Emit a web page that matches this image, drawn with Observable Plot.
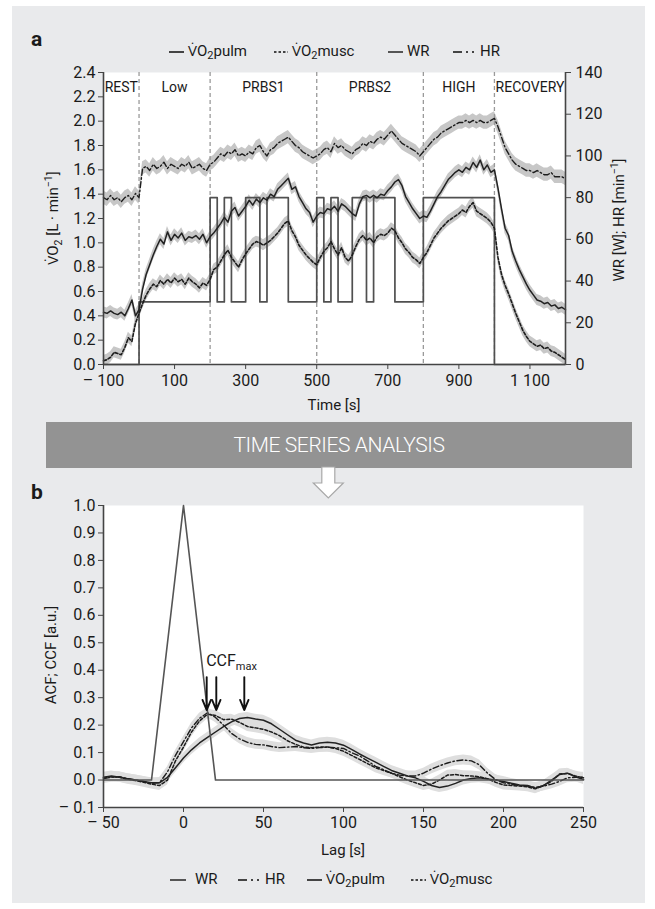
<!DOCTYPE html>
<html><head><meta charset="utf-8">
<script src="https://cdn.jsdelivr.net/npm/d3@7"></script>
<script src="https://cdn.jsdelivr.net/npm/@observablehq/plot@0.6"></script>
<style>
html,body{margin:0;padding:0;background:#fff;}
body{width:655px;height:909px;position:relative;overflow:hidden;font-family:Roboto,"Open Sans",sans-serif;color:#1a1a1a;}
#card{position:absolute;left:12px;top:6px;width:633px;height:897px;background:#e9eaec;}
.abs{position:absolute;}
.plabel{position:absolute;font-weight:bold;font-size:21px;line-height:21px;}
.lg{position:absolute;font-size:15px;line-height:18px;white-space:nowrap;}
.lg sub{font-size:11px;vertical-align:-3px;line-height:0;}
.sw{position:absolute;}
#banner{position:absolute;left:46px;top:422px;width:586px;height:46px;background:#939393;color:#fff;font-size:21px;font-weight:300;line-height:46px;text-align:center;letter-spacing:-0.4px;}
</style></head>
<body>
<div id="card"></div>
<div class="plabel" style="left:31px;top:29px;">a</div>
<div class="plabel" style="left:31px;top:482px;">b</div>
<div id="legendA"></div>
<div id="legendB"></div>
<div id="banner">TIME SERIES ANALYSIS</div>
<svg class="abs" style="left:310px;top:466px;" width="40" height="36"><path d="M11.8,1 L24.8,1 L24.8,17 L33.3,17 L18.3,32 L3.3,17 L11.8,17 Z" fill="#fff" stroke="#a8a8a8" stroke-width="1.2"/></svg>
<div id="plotA" class="abs" style="left:0;top:60px;"></div>
<div id="plotB" class="abs" style="left:0;top:495px;"></div>
<script>
// ---------- Panel a data ----------
const timeA = [-100,-90,-80,-70,-60,-50,-40,-30,-20,-10,0,
10,20,30,40,50,60,70,80,90,100,110,120,130,140,150,160,170,180,190,200,
210,220,230,240,250,260,270,280,290,300,310,320,330,340,350,360,370,380,390,400,410,420,430,440,450,460,470,480,490,500,
510,520,530,540,550,560,570,580,590,600,610,620,630,640,650,660,670,680,690,700,710,720,730,740,750,760,770,780,790,800,
810,820,830,840,850,860,870,880,890,900,910,920,930,940,950,960,970,980,990,1000,
1010,1020,1030,1040,1050,1060,1070,1080,1090,1100,1110,1120,1130,1140,1150,1160,1170,1180,1190,1200];
const vo2pulmA = [0.43,0.42,0.44,0.42,0.41,0.43,0.40,0.46,0.53,0.40,0.45,
0.62,0.74,0.82,0.90,0.97,1.03,0.99,1.09,1.02,1.07,1.04,1.08,1.02,1.05,1.04,1.06,1.03,1.07,1.00,1.05,
1.08,1.12,1.16,1.21,1.17,1.26,1.29,1.22,1.26,1.30,1.35,1.31,1.36,1.33,1.37,1.35,1.40,1.38,1.44,1.47,1.50,1.53,1.44,1.46,1.38,1.33,1.28,1.25,1.17,1.22,
1.25,1.24,1.28,1.27,1.30,1.26,1.32,1.30,1.27,1.24,1.22,1.32,1.38,1.39,1.37,1.39,1.37,1.40,1.39,1.43,1.46,1.50,1.52,1.47,1.38,1.33,1.28,1.24,1.20,1.22,
1.21,1.26,1.32,1.38,1.42,1.47,1.52,1.55,1.58,1.60,1.58,1.62,1.60,1.66,1.62,1.68,1.60,1.64,1.58,1.60,
1.45,1.28,1.12,1.06,0.93,0.85,0.78,0.72,0.66,0.61,0.57,0.53,0.52,0.50,0.51,0.48,0.49,0.46,0.47,0.45];
const vo2muscA = [0.03,0.04,0.06,0.10,0.09,0.08,0.14,0.22,0.19,0.34,0.42,
0.50,0.57,0.62,0.66,0.64,0.69,0.66,0.70,0.67,0.71,0.68,0.70,0.66,0.71,0.68,0.66,0.63,0.67,0.65,0.70,
0.78,0.80,0.85,0.90,0.94,0.88,0.84,0.80,0.86,0.91,0.95,0.99,1.01,1.00,0.98,1.00,1.02,1.05,1.08,1.12,1.16,1.18,1.10,1.05,0.98,0.94,0.90,0.87,0.84,0.82,
0.88,0.93,0.96,1.01,0.95,0.90,0.96,0.88,0.85,0.90,0.97,1.03,1.06,1.02,1.04,1.00,1.05,1.07,1.06,1.08,1.12,1.10,1.04,1.00,0.95,0.92,0.88,0.86,0.83,0.88,
0.92,0.98,1.04,1.08,1.12,1.15,1.18,1.20,1.22,1.24,1.27,1.25,1.30,1.33,1.26,1.24,1.22,1.20,1.17,1.12,
0.88,0.74,0.65,0.58,0.50,0.42,0.35,0.28,0.23,0.19,0.17,0.15,0.16,0.13,0.14,0.11,0.10,0.08,0.06,0.04];
const hrA = [80,79,81,79,80,78,80,81,79,82,80,
94,95,93,96,94,95,97,94,96,95,94,96,95,97,94,95,96,94,93,96,
97,99,101,100,102,101,103,100,101,100,102,101,104,105,102,100,103,104,106,107,108,109,107,105,104,102,101,100,99,100,
101,103,104,102,106,104,105,103,102,101,103,104,106,105,107,106,108,109,108,110,112,110,108,106,105,104,103,102,100,102,
104,106,108,109,111,112,113,114,115,116,116,117,116,117,116,117,116,116,117,118,
114,109,104,101,98,96,95,94,93,93,92,93,92,91,91,92,90,90,90,89];
const wrStepTime  = [-100, 0, 200, 220, 240, 260, 300, 340, 360, 420, 500, 520, 540, 560, 600, 640, 660, 720, 800, 1000, 1200];
const wrStepWatts = [   0,30,  80,  30,  80,  30,  80,  30,  80,  30,  80,  30,  80,  30,  80,  30,  80,  30,  80,    0,    0];
const bandPulmA = 0.045, bandMuscA = 0.045, bandHrA = 3.2;   // SD band half-widths
const phaseNames = ["REST","Low","PRBS1","PRBS2","HIGH","RECOVERY"];
const phaseStart = [-100, 0, 200, 500, 800, 1000];
const phaseEnd   = [0, 200, 500, 800, 1000, 1200];
const phaseBounds = [0, 200, 500, 800, 1000];
const yTicksA = [0,0.2,0.4,0.6,0.8,1.0,1.2,1.4,1.6,1.8,2.0,2.2,2.4];
const rightTicksA = [0,20,40,60,80,100,120,140];
const xTicksA = [-100,100,300,500,700,900,1100];
const xTickLabelsA = ["– 100","100","300","500","700","900","1 100"];

// ---------- Panel b data ----------
const lagB = [-50,-45,-40,-35,-30,-25,-20,-15,-10,-5,0,5,10,15,20,25,30,35,40,45,50,55,60,65,70,75,80,85,90,95,100,
105,110,115,120,125,130,135,140,145,150,155,160,165,170,175,180,185,190,195,200,205,210,215,220,225,230,235,240,245,250];
const ccfPulmB = [0.01,0.015,0.01,0.005,0.0,-0.005,-0.01,-0.01,0.01,0.045,0.08,
0.11,0.135,0.155,0.175,0.195,0.212,0.224,0.228,0.222,0.218,
0.205,0.185,0.165,0.145,0.135,0.128,0.135,0.138,0.135,0.127,
0.112,0.095,0.08,0.065,0.05,0.035,0.025,0.015,0.008,-0.005,
-0.02,-0.027,-0.022,-0.012,0.0,0.006,0.008,0.004,0.0,-0.005,
-0.012,-0.018,-0.02,-0.03,-0.02,0.0,0.02,0.025,0.012,0.002];
const ccfHrB = [0.005,0.01,0.012,0.005,0.0,-0.005,-0.012,-0.01,0.03,0.09,0.14,
0.19,0.225,0.245,0.228,0.2,0.17,0.15,0.137,0.13,0.128,
0.122,0.118,0.12,0.122,0.118,0.115,0.118,0.12,0.118,0.115,
0.1,0.088,0.07,0.05,0.038,0.025,0.018,0.015,0.015,0.025,
0.04,0.052,0.062,0.07,0.073,0.07,0.055,0.025,0.002,-0.01,
-0.015,-0.02,-0.022,-0.027,-0.022,-0.015,-0.005,0.008,0.01,0.01];
const ccfMuscB = [0.008,0.012,0.01,0.003,-0.002,-0.008,-0.015,-0.02,0.0,0.07,0.12,
0.175,0.215,0.24,0.235,0.22,0.222,0.21,0.195,0.19,0.185,
0.175,0.162,0.143,0.13,0.12,0.118,0.12,0.12,0.115,0.105,
0.09,0.075,0.06,0.045,0.035,0.025,0.012,0.0,-0.01,-0.02,
-0.015,0.0,0.018,0.02,0.016,0.015,0.012,0.005,-0.008,-0.018,
-0.02,-0.022,-0.025,-0.032,-0.02,-0.005,0.022,0.024,0.015,0.008];
const acfWrLag = [-50,-20,0,20,250];
const acfWrVal = [0,0,1,0,0];
const bandB = 0.018;
const ccfMaxLag = [14.5, 20.5, 38];
const ccfArrowTop = [0.375, 0.375, 0.375];
const ccfArrowTip = [0.255, 0.255, 0.255];
const yTicksB = [-0.1,0,0.1,0.2,0.3,0.4,0.5,0.6,0.7,0.8,0.9,1.0];
const xTicksB = [-50,0,50,100,150,200,250];

// ---------- build ----------
const FONT = "Roboto, 'Open Sans', sans-serif";
const HR_TO_L = 2.4/140;
const ink = "#1c1c1c", axisInk = "#444";
const rowsA = timeA.map((t,i)=>({t, pulm:vo2pulmA[i], musc:vo2muscA[i], hr:hrA[i]*HR_TO_L}));
const wrRowsA = wrStepTime.map((t,i)=>({t, w:wrStepWatts[i]*HR_TO_L}));
const phaseRows = phaseNames.map((n,i)=>({name:n, x:(phaseStart[i]+phaseEnd[i])/2}));
const xLabA = new Map(xTicksA.map((v,i)=>[v,xTickLabelsA[i]]));
const bandFill = "#c7c7c7";

const plotA = Plot.plot({
  width:655, height:360, marginLeft:103, marginRight:90, marginTop:12, marginBottom:56,
  x:{domain:[-100,1200]}, y:{domain:[0,2.4]},
  style:{fontFamily:FONT, fontSize:"16px", background:"transparent", color:"#1a1a1a", overflow:"visible"},
  marks:[
    Plot.frame({fill:"white", stroke:null}),
    Plot.areaY(rowsA,{x:"t", y1:d=>d.hr-bandHrA*HR_TO_L, y2:d=>d.hr+bandHrA*HR_TO_L, fill:bandFill}),
    Plot.areaY(rowsA,{x:"t", y1:d=>d.pulm-bandPulmA, y2:d=>d.pulm+bandPulmA, fill:bandFill}),
    Plot.areaY(rowsA,{x:"t", y1:d=>d.musc-bandMuscA, y2:d=>d.musc+bandMuscA, fill:bandFill}),
    Plot.ruleX(phaseBounds,{stroke:"#9a9a9a", strokeWidth:1.3, strokeDasharray:"4,3"}),
    Plot.line(wrRowsA,{x:"t", y:"w", curve:"step-after", stroke:"#505050", strokeWidth:1.7}),
    Plot.line(rowsA,{x:"t", y:"hr", stroke:ink, strokeWidth:1.4, strokeDasharray:"6,2.5,1.5,2.5"}),
    Plot.line(rowsA,{x:"t", y:"musc", stroke:ink, strokeWidth:1.6, strokeDasharray:"3,2"}),
    Plot.line(rowsA,{x:"t", y:"pulm", stroke:"#222", strokeWidth:1.5}),
    Plot.text(phaseRows,{x:"x", y:()=>2.4, text:"name", dy:15, fontSize:14, fill:"#1a1a1a"}),
    Plot.ruleX([-100,1200],{stroke:axisInk, strokeWidth:1.6}),
    Plot.ruleY([0],{stroke:axisInk, strokeWidth:1.6}),
    Plot.axisY(yTicksA,{anchor:"left", tickSize:5, tickPadding:3, tickFormat:d3.format(".1f"), label:null, stroke:axisInk}),
    Plot.axisY(rightTicksA.map(v=>v*HR_TO_L),{anchor:"right", tickSize:5, tickPadding:5, tickFormat:d=>String(Math.round(d/HR_TO_L)), label:null, stroke:axisInk}),
    Plot.axisX(xTicksA,{anchor:"bottom", tickSize:5, tickPadding:5, tickFormat:d=>xLabA.get(d), label:null, stroke:axisInk})
  ]
});
document.getElementById("plotA").appendChild(plotA);

function richLabel(svg, x, y, rotate, parts, size){
  const t = d3.select(svg).append("text")
    .attr("transform",`translate(${x},${y})`+(rotate?` rotate(${rotate})`:""))
    .attr("text-anchor","middle").attr("font-family",FONT).attr("font-size",size).attr("fill","#1a1a1a");
  parts.forEach(p=>{
    const s = t.append("tspan").text(p.t);
    if(p.sub){ s.attr("font-size",size*0.7).attr("dy",4); }
    else if(p.sup){ s.attr("font-size",size*0.7).attr("dy",-6); }
    if(p.back) s.attr("dy",p.back);
  });
  return t;
}
richLabel(plotA, 58, 158, -90, [{t:"V̇O"},{t:"2",sub:true},{t:" [L · min",back:-4},{t:"−1",sup:true},{t:"]",back:6}], 15);
richLabel(plotA, 624, 160, -90, [{t:"WR [W]; HR [min"},{t:"−1",sup:true},{t:"]",back:6}], 15);
richLabel(plotA, 334, 350, 0, [{t:"Time [s]"}], 15);

// ---------- Panel b ----------
const rowsB = lagB.map((l,i)=>({l, pulm:ccfPulmB[i], hr:ccfHrB[i], musc:ccfMuscB[i]}));
const wrRowsB = acfWrLag.map((l,i)=>({l, v:acfWrVal[i]}));
const arrowRows = ccfMaxLag.map((l,i)=>({l, top:ccfArrowTop[i], tip:ccfArrowTip[i]}));
const bandFillB = "#dedede";
const fmtB = d => d < 0 ? "– " + d3.format(".1f")(-d) : d3.format(".1f")(d);
const plotB = Plot.plot({
  width:655, height:367, marginLeft:103, marginRight:72, marginTop:10, marginBottom:55,
  x:{domain:[-50,250]}, y:{domain:[-0.1,1.0]},
  style:{fontFamily:FONT, fontSize:"16px", background:"transparent", color:"#1a1a1a", overflow:"visible"},
  marks:[
    Plot.frame({fill:"white", stroke:null}),
    Plot.areaY(rowsB,{x:"l", y1:d=>d.hr-bandB, y2:d=>d.hr+bandB, fill:bandFillB}),
    Plot.areaY(rowsB,{x:"l", y1:d=>d.musc-bandB, y2:d=>d.musc+bandB, fill:bandFillB}),
    Plot.areaY(rowsB,{x:"l", y1:d=>d.pulm-bandB, y2:d=>d.pulm+bandB, fill:bandFillB}),
    Plot.line(rowsB,{x:"l", y:"hr", stroke:ink, strokeWidth:1.4, strokeDasharray:"6,2.5,1.5,2.5"}),
    Plot.line(rowsB,{x:"l", y:"musc", stroke:ink, strokeWidth:1.5, strokeDasharray:"3,2"}),
    Plot.line(rowsB,{x:"l", y:"pulm", stroke:"#222", strokeWidth:1.5}),
    Plot.line(wrRowsB,{x:"l", y:"v", stroke:"#555", strokeWidth:1.6}),
    Plot.arrow(arrowRows,{x1:"l", x2:"l", y1:"top", y2:"tip", stroke:"#111", strokeWidth:1.9, headLength:10, headAngle:45}),
    Plot.ruleX([-50],{stroke:axisInk, strokeWidth:1.6}),
    Plot.ruleY([-0.1],{stroke:axisInk, strokeWidth:1.6}),
    Plot.axisY(yTicksB,{anchor:"left", tickSize:5, tickPadding:3, tickFormat:fmtB, label:null, stroke:axisInk}),
    Plot.axisX(xTicksB,{anchor:"bottom", tickSize:5, tickPadding:4, tickFormat:d=> d<0 ? "– "+(-d) : String(d), label:null, stroke:axisInk})
  ]
});
document.getElementById("plotB").appendChild(plotB);
const sx = plotB.scale("x"), sy = plotB.scale("y");
const ccf = d3.select(plotB).append("text").attr("x", sx.apply(ccfMaxLag[0])).attr("y", sy.apply(0.415))
  .attr("text-anchor","start").attr("font-family",FONT).attr("font-size",16).attr("fill","#1a1a1a");
ccf.append("tspan").text("CCF");
ccf.append("tspan").attr("font-size",11).attr("dy",4).text("max");
richLabel(plotB, 56, 160, -90, [{t:"ACF; CCF [a.u.]"}], 15);
richLabel(plotB, 343, 360, 0, [{t:"Lag [s]"}], 15);

// ---------- legends ----------
function legend(container, top, items){
  const c = document.getElementById(container);
  items.forEach(it=>{
    const s = document.createElementNS("http://www.w3.org/2000/svg","svg");
    s.setAttribute("class","sw"); s.setAttribute("width",it.w); s.setAttribute("height",6);
    s.style.left = it.x+"px"; s.style.top = (top-3)+"px";
    s.innerHTML = `<line x1="0" x2="${it.w}" y1="3" y2="3" stroke="${it.c}" stroke-width="2" ${it.dash?`stroke-dasharray="${it.dash}"`:""}/>`;
    c.appendChild(s);
    const d = document.createElement("div"); d.className="lg";
    d.style.left = it.tx+"px"; d.style.top = (top-10)+"px"; d.innerHTML = it.label;
    c.appendChild(d);
  });
}
const legendLabelsA = ["V̇O<sub>2</sub>pulm","V̇O<sub>2</sub>musc","WR","HR"];
const legendLabelsB = ["WR","HR","V̇O<sub>2</sub>pulm","V̇O<sub>2</sub>musc"];
legend("legendA", 52, [
  {x:169,w:15,c:"#444",tx:188,label:legendLabelsA[0]},
  {x:274,w:14,c:"#444",dash:"2.5,2",tx:292,label:legendLabelsA[1]},
  {x:388,w:15,c:"#555",tx:407,label:legendLabelsA[2]},
  {x:453,w:21,c:"#444",dash:"9,4,2,4",tx:480,label:legendLabelsA[3]}
]);
legend("legendB", 880, [
  {x:170,w:16,c:"#555",tx:195,label:legendLabelsB[0]},
  {x:238,w:21,c:"#444",dash:"9,4,2,4",tx:265,label:legendLabelsB[1]},
  {x:307,w:15,c:"#444",tx:326,label:legendLabelsB[2]},
  {x:411,w:15,c:"#444",dash:"2.5,2",tx:430,label:legendLabelsB[3]}
]);
</script>
</body></html>
